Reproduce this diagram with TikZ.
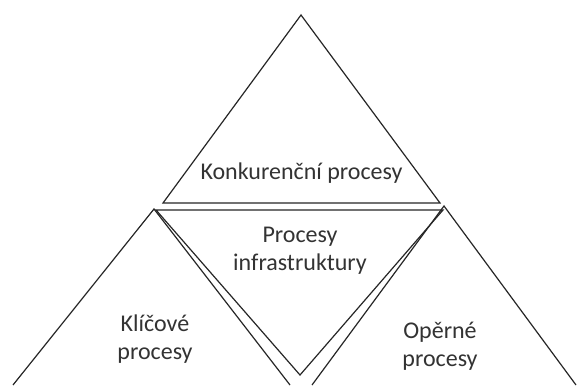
\documentclass[tikz,border=0pt]{standalone}
\usepackage{fontspec}
\setmainfont{Carlito}
\begin{document}
\begin{tikzpicture}[x=1pt,y=-1pt,
  edge/.style={draw=black!85,line width=1.2pt,line join=miter},
  label/.style={font=\fontsize{24}{28}\selectfont,text=black!80,align=center,inner sep=0pt,anchor=base}]
\useasboundingbox[fill=white] (0,0) rectangle (577,385);

% top triangle
\coordinate (tA) at (301,15);
\coordinate (tL) at (163,203);
\coordinate (tR) at (440,203);
% inverted middle triangle
\coordinate (mL) at (156,210);
\coordinate (mR) at (443,210);
\coordinate (mB) at (300,375);
% left triangle
\coordinate (lA) at (154,209);
\coordinate (lL) at (13,385);
\coordinate (lR) at (290,385);
% right triangle
\coordinate (rA) at (444,206);
\coordinate (rL) at (312,385);
\coordinate (rR) at (576,385);

\draw[edge] (tL) -- (tA) -- (tR) -- cycle;
\draw[edge] (mL) -- (mR) -- (mB) -- cycle;
\draw[edge] (lL) -- (lA) -- (lR);
\draw[edge] (rL) -- (rA) -- (rR);

% a multi-line node sits on the baseline of its last line
\node[label] (konk) at (301.5,179) {Konkurenční procesy};
\node[label] (infra) at (300,270) {Procesy\\infrastruktury};
\node[label] (klic) at (155,359) {Klíčové\\procesy};
\node[label] (oper) at (440,366) {Opěrné\\procesy};
\end{tikzpicture}
\end{document}
